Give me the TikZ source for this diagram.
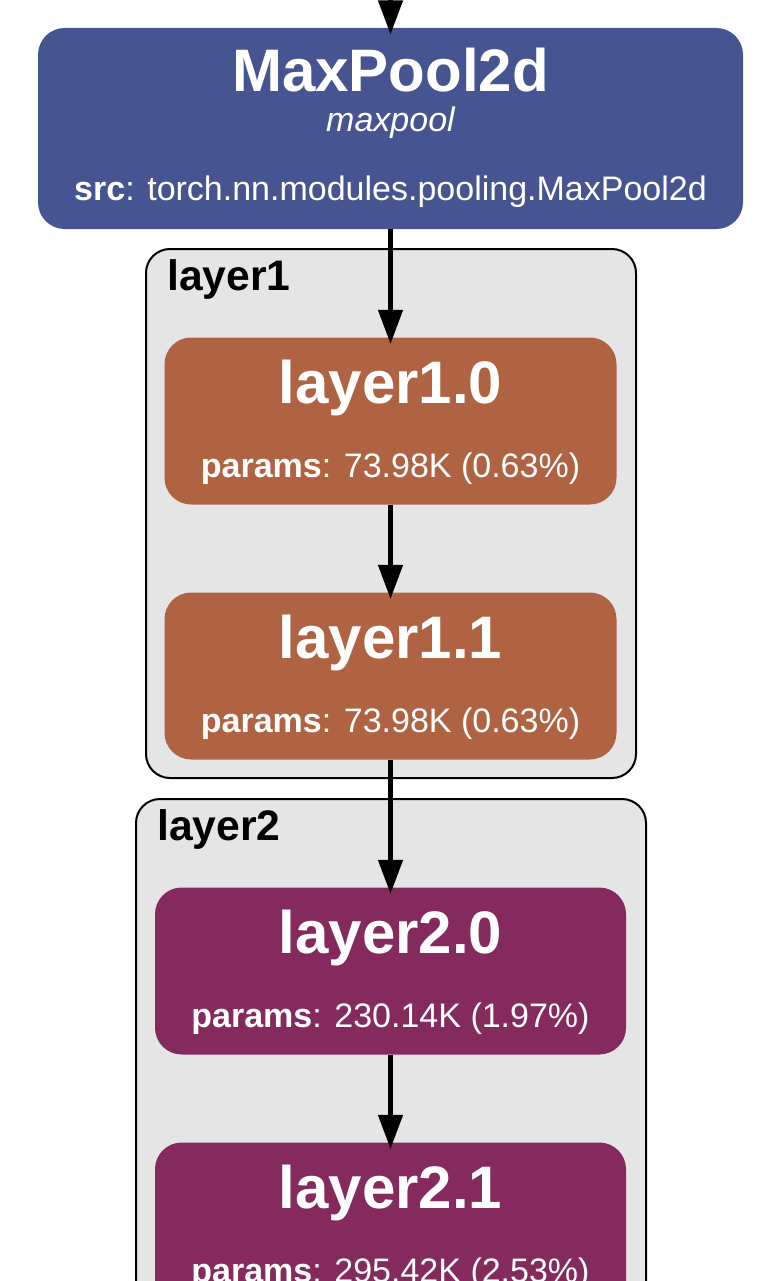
\documentclass[tikz,border=0pt]{standalone}
\usepackage{fontspec}
\setmainfont{Liberation Sans}
\usetikzlibrary{calc,arrows.meta,positioning}
\definecolor{poolblue}{RGB}{70,84,145}
\definecolor{blockbrown}{RGB}{176,99,66}
\definecolor{blockplum}{RGB}{133,42,92}
\definecolor{clustergray}{RGB}{229,229,229}
\tikzset{
  graph scheme/.style = {
    x = 0.75pt, y = -0.75pt,
    % blocks
    blk/.style = {
      rounded corners = 20pt,
      minimum height  = 125.25pt,
      inner sep       = 0pt
    },
    cluster/.style = { draw=black, line width=1.5pt, fill=clustergray,
                       rounded corners=18pt, inner sep=0pt },
    % texts
    ttl/.style  = { anchor=base, inner sep=0pt, text=white,
                    font=\fontsize{45}{50}\selectfont\bfseries },
    txt/.style  = { anchor=base, inner sep=0pt, text=white,
                    font=\fontsize{25.5}{30}\selectfont },
    clab/.style = { anchor=base west, inner sep=0pt,
                    font=\fontsize{32}{36}\selectfont\bfseries },
    % lines
    connect line/.style = { line width=3.4pt, shorten >=-5pt,
                            -{Triangle[length=25.5pt,width=18pt]} },
  }
}
\begin{document}
\begin{tikzpicture}[graph scheme]
\def\lblock(#1)<#2,#3>[#4][#5] at (#6);{
  \node[blk, fill=#2, minimum width=#3] (#1) at (#6) {};
  \node[ttl] (#1_title)  at ($(#1.north)+(0,66)$)  {#4};
  \node[txt] (#1_params) at ($(#1.north)+(0,140)$) {\textbf{params}: #5};
}
\useasboundingbox (0,0) rectangle (777,1281);
\clip (0,0) rectangle (777,1281);

%---------------------------------------------
\node[cluster, minimum width=367.5pt, minimum height=396.75pt] (layer1) at (391,513.5) {};
\node[clab] (layer1_label) at (167,290) {layer1};
\node[cluster, minimum width=382.5pt, minimum height=600.75pt] (layer2) at (391,1199.5) {};
\node[clab] (layer2_label) at (157,840) {layer2};

\node[blk, fill=poolblue, minimum width=528.75pt, minimum height=150.75pt] (mp) at (390.5,128.5) {};
\node[ttl] (mp_title) at ($(mp.north)+(0,64)$)  {MaxPool2d};
\node[txt] (mp_name)  at ($(mp.north)+(0,104)$) {\itshape maxpool};
\node[txt] (mp_src)   at ($(mp.north)+(0,173)$) {\textbf{src}: torch.nn.modules.pooling.MaxPool2d};

\lblock(l10)<blockbrown,339pt>[layer1.0][73.98K (0.63\%)] at (390.5,421);
\lblock(l11)<blockbrown,339pt>[layer1.1][73.98K (0.63\%)] at (390.5,676);
\lblock(l20)<blockplum,353.25pt>[layer2.0][230.14K (1.97\%)] at (390.5,971);
\lblock(l21)<blockplum,353.25pt>[layer2.1][295.42K (2.53\%)] at (390.5,1226);

%---------------------------------------------
\coordinate (in) at (390.5,-10);
\draw[connect line] (in) -- (mp.north);
\draw[connect line] (mp.south) -- (l10.north);
\draw[connect line] (l10.south) -- (l11.north);
\draw[connect line] (l11.south) -- (l20.north);
\draw[connect line] (l20.south) -- (l21.north);
\end{tikzpicture}
\end{document}
